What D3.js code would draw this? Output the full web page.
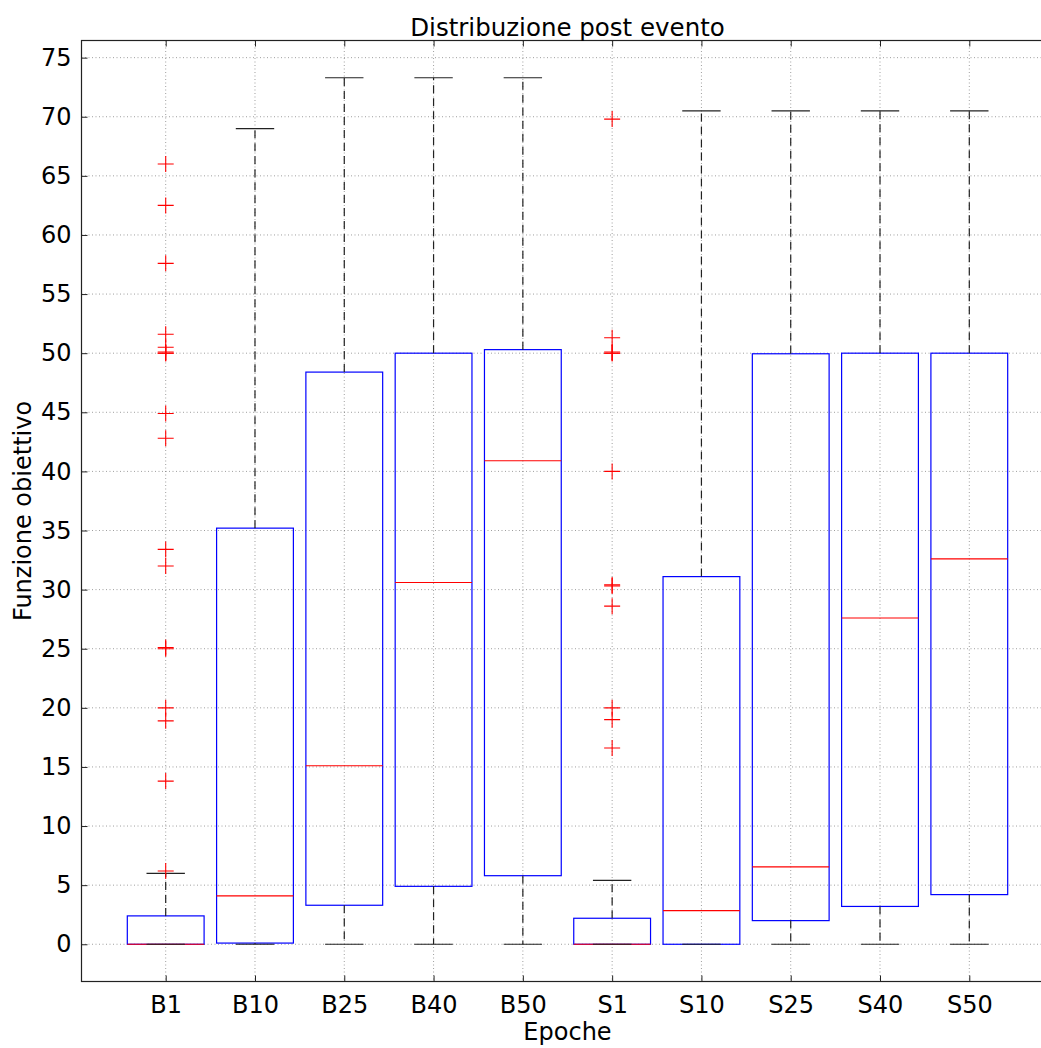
<!DOCTYPE html>
<html>
<head>
<meta charset="utf-8">
<script src="https://cdn.jsdelivr.net/npm/d3@7"></script>
<style>
  body { margin: 0; background: #fff; }
  svg { display: block; font-family: 'DejaVu Sans', sans-serif; }
  .grid line { stroke: #000; stroke-opacity: 0.55; stroke-width: 0.7; stroke-dasharray: 1,2.5; }
  .axis path { display: none; }
  .axis line { stroke: #222; }
  .axis text { font-family: 'DejaVu Sans', sans-serif; font-size: 24px; fill: #000; }
</style>
</head>
<body>
<div id="chart"></div>
<script>
'use strict';

const categories = ['B1', 'B10', 'B25', 'B40', 'B50', 'S1', 'S10', 'S25', 'S40', 'S50'];
const whiskerLow = [0, 0, 0, 0, 0, 0, 0, 0, 0, 0];
const q1 = [0, 0.1, 3.3, 4.9, 5.8, 0, 0, 2.0, 3.2, 4.2];
const median = [0, 4.1, 15.1, 30.6, 40.9, 0, 2.85, 6.55, 27.6, 32.6];
const q3 = [2.4, 35.2, 48.4, 50.0, 50.3, 2.2, 31.1, 49.95, 50.0, 50.0];
const whiskerHigh = [6.0, 69.0, 73.3, 73.3, 73.3, 5.4, 70.5, 70.5, 70.5, 70.5];
const outliersB1 = [6.2, 13.8, 18.9, 20.0, 25.0, 25.1, 32.0, 33.4, 42.8, 44.9, 50.0, 50.0, 50.1, 50.5, 51.6, 57.6, 62.5, 66.0];
const outliersS1 = [16.6, 19.0, 20.0, 28.6, 30.3, 30.4, 40.0, 50.0, 50.0, 50.1, 51.3, 69.8];
const yTicks = [0, 5, 10, 15, 20, 25, 30, 35, 40, 45, 50, 55, 60, 65, 70, 75];

const outliers = { B1: outliersB1, S1: outliersS1 };

let width = 1041, height = 1048;
let margin = { top: 40.5, left: 81.5 };
let plotW = 972, plotH = 941;

let svg = d3.select('#chart').append('svg')
  .attr('width', width).attr('height', height);

let x = d3.scaleLinear().domain([0.057, 10.943]).range([margin.left, margin.left + plotW]);
let y = d3.scaleLinear().domain([-3.15, 76.45]).range([margin.top + plotH, margin.top]);

let boxHalf = 0.43, capHalf = 0.215;

let data = categories.map((c, i) => ({
  name: c, pos: i + 1,
  lo: whiskerLow[i], q1: q1[i], med: median[i], q3: q3[i], hi: whiskerHigh[i],
  fliers: outliers[c] || []
}));

// grid
let grid = svg.append('g').classed('grid', true);
grid.selectAll('.gy').data(yTicks).enter().append('line')
  .attr('x1', margin.left).attr('x2', margin.left + plotW)
  .attr('y1', d => y(d)).attr('y2', d => y(d));
grid.selectAll('.gx').data(data).enter().append('line')
  .attr('x1', d => x(d.pos)).attr('x2', d => x(d.pos))
  .attr('y1', margin.top).attr('y2', margin.top + plotH);

let content = svg.append('g');

data.forEach(d => {
  let g = content.append('g');
  // box
  g.append('rect')
    .attr('x', x(d.pos - boxHalf)).attr('y', y(d.q3))
    .attr('width', x(d.pos + boxHalf) - x(d.pos - boxHalf))
    .attr('height', y(d.q1) - y(d.q3))
    .style('fill', 'none').style('stroke', '#0000ff').style('stroke-width', 1.2);
  // median
  g.append('line')
    .attr('x1', x(d.pos - boxHalf)).attr('x2', x(d.pos + boxHalf))
    .attr('y1', y(d.med)).attr('y2', y(d.med))
    .style('stroke', '#ff0000').style('stroke-width', 1.2);
  // whiskers
  [[d.q3, d.hi], [d.q1, d.lo]].forEach(w => {
    g.append('line')
      .attr('x1', x(d.pos)).attr('x2', x(d.pos))
      .attr('y1', y(w[0])).attr('y2', y(w[1]))
      .style('stroke', '#222').style('stroke-width', 1.2).style('stroke-dasharray', '8,5');
  });
  // caps
  [d.lo, d.hi].forEach(v => {
    g.append('line')
      .attr('x1', x(d.pos - capHalf)).attr('x2', x(d.pos + capHalf))
      .attr('y1', y(v)).attr('y2', y(v))
      .style('stroke', '#222').style('stroke-width', 1.2);
  });
  // fliers
  d.fliers.forEach(v => {
    g.append('path')
      .attr('d', `M${x(d.pos) - 8},${y(v)}h16M${x(d.pos)},${y(v) - 8}v16`)
      .style('stroke', '#ff0000').style('stroke-width', 1.1).style('fill', 'none');
  });
});

// frame
svg.append('rect')
  .attr('x', margin.left).attr('y', margin.top)
  .attr('width', plotW).attr('height', plotH)
  .style('fill', 'none').style('stroke', '#222').style('stroke-width', 1.2);

// axes
let xAxisBottom = d3.axisBottom(x).tickValues(data.map(d => d.pos))
  .tickFormat((v, i) => categories[i]).tickSize(-6).tickPadding(14);
svg.append('g').classed('axis', true)
  .attr('transform', `translate(0,${margin.top + plotH})`).call(xAxisBottom);

let xAxisTop = d3.axisTop(x).tickValues(data.map(d => d.pos))
  .tickFormat('').tickSize(-6);
svg.append('g').classed('axis', true)
  .attr('transform', `translate(0,${margin.top})`).call(xAxisTop);

let yAxis = d3.axisLeft(y).tickValues(yTicks).tickSize(-6).tickPadding(10);
svg.append('g').classed('axis', true)
  .attr('transform', `translate(${margin.left},0)`).call(yAxis);

// title and labels
svg.append('text')
  .attr('x', margin.left + plotW / 2).attr('y', 35.5)
  .attr('text-anchor', 'middle').style('font-size', '24.5px')
  .text('Distribuzione post evento');

svg.append('text')
  .attr('x', margin.left + plotW / 2).attr('y', 1040)
  .attr('text-anchor', 'middle').style('font-size', '24px')
  .text('Epoche');

svg.append('text')
  .attr('transform', `translate(31,${margin.top + plotH / 2}) rotate(-90)`)
  .attr('text-anchor', 'middle').style('font-size', '24px')
  .text('Funzione obiettivo');
</script>
</body>
</html>
